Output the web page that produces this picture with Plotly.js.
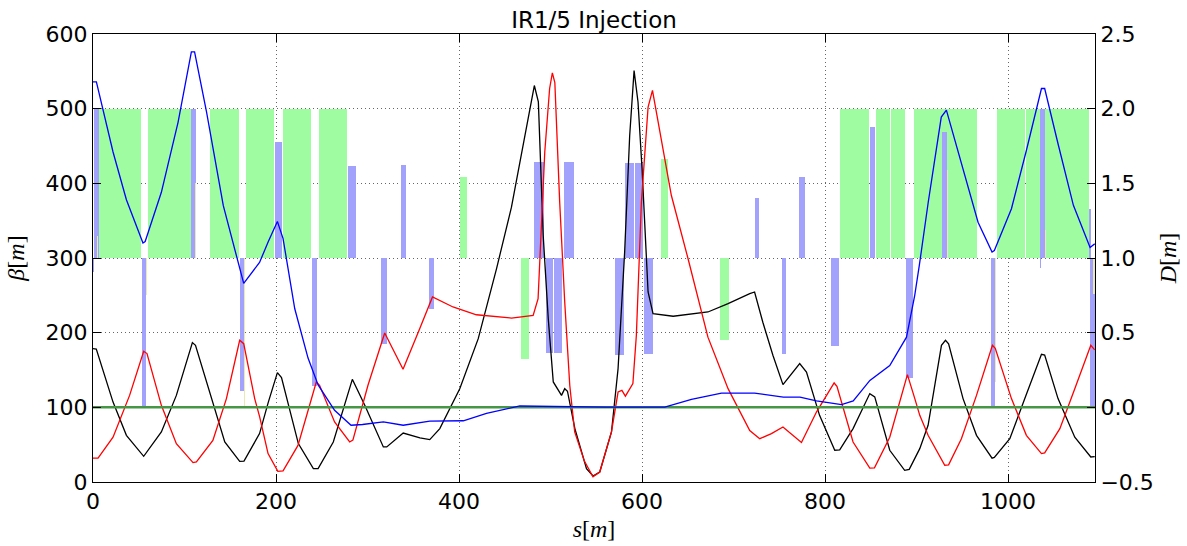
<!DOCTYPE html>
<html><head><meta charset="utf-8">
<script src="https://cdn.plot.ly/plotly-3.0.1.min.js"></script>
<style>html,body{margin:0;padding:0;background:#fff}#chart{width:1187px;height:546px}</style>
</head><body><div id="chart"></div>
<script>
// ---- optics (s in m) ----
const sBlack = [0,3.6,21.9,36.5,55.4,74.7,91.1,108.6,112,127.6,144,160.3,165,182,191.6,201.5,206,224.4,240.8,246,262.6,283.4,297,317.3,321,339,357.3,368,379,400.8,421,441,457.3,482.3,486.7,492,497.5,503,512,515.5,518.5,526.6,539.3,546.4,553.8,566.6,573.8,581,586.5,591.3,595.6,600,606.6,612,634,672,694,717.7,723,732,743,754,772.3,779.7,794,810.6,816,830.6,848.9,854.3,870.7,887,892,903.5,912.6,927.2,931.6,935,950.8,965.5,982.5,985,1001.9,1018.3,1036.5,1040,1054.6,1072.9,1090.4,1094.7];
const betaBlack = [178.6,178,107,62.5,34.4,67,116,186.7,183,120.5,53.6,27.7,28,64.8,107,146.5,140,51.4,18,18,53.6,137.5,102.7,47,47,65.6,59,56.8,71.5,125,192,285.8,368,531,509,330,218.8,134,116,125,121.6,71.5,18,8,13.4,67,151.9,308,464,551,509,419.7,254.5,225.5,222,227.7,239,252.3,254.5,214,169.7,130.4,158.6,147.3,89.3,42.5,43,71.5,118.4,114,42.5,15.7,17,44.7,76,183,189.8,185,111.7,62.5,32,33,58,111.7,171,170,111.7,60,33.5,34];

const sRed = [0,5.5,21.9,40,55.4,59,74.7,91.1,109.3,113,131,145.8,160.3,164.7,176.7,182,191.3,202,207.7,224,244,247.6,264,280.5,284,300.5,318.8,338.8,357,371,393.4,419,457.3,481,486.4,493.7,499,502,504.7,510,515.5,521,526.4,537,546.4,553.8,566.6,573.8,578,581.8,590,593.8,599.3,606.6,611.4,632,650.3,672,694,717.7,728.6,741.4,754,774.2,790.6,809.9,813,830.6,848.9,854,870.7,890,898,903.5,912.6,930.8,935,949,965.5,982.9,986,1003.7,1020,1036.5,1040,1056.6,1072.9,1090.4,1094.7];
const betaRed = [32,32,60,116,175,172,102.7,51.4,26,27,55.8,111.7,189.8,185.3,111.7,88,38,14.3,15,49,134,129.5,80.4,53.6,56,129.5,199.6,151,205.4,247.8,234.4,224,219.6,223,245.6,442,527,548,535,375,241,129.5,67,28,7,13.4,67,120.5,122.8,115,131.8,196.5,375,502,524.6,384,299,194,125,69,58,64.8,73.7,52.8,93.7,132.6,128,53.6,18.7,19,60,143.8,112,89.3,62.5,22.4,23,58,116,183,179,111.7,62.5,38,39,71.5,125,183,177];

const sBlue = [0,3.7,21.9,36.5,54.6,57,74.7,93,107.5,111,124,142.4,164.7,182,191.6,201.5,207.7,220.5,235,246,264,282,294.5,317.3,339,362.8,368,404.7,430,466.4,500,560,624.8,654,686.8,723,754.4,772.6,790.6,818,830.8,849,870.7,889,898,903,912.8,927,932.6,950.8,967.2,982.5,985,1003.7,1020,1036.5,1040,1055,1071.4,1089.6,1094.7];
const dispBlue = [2.18,2.18,1.71,1.39,1.10,1.11,1.44,1.91,2.38,2.38,1.98,1.35,0.83,0.97,1.11,1.245,1.13,0.66,0.33,0.15,-0.02,-0.12,-0.115,-0.098,-0.12,-0.098,-0.093,-0.09,-0.04,0.009,0.005,0.002,0.002,0.053,0.095,0.095,0.069,0.069,0.043,0.018,0.043,0.18,0.28,0.47,0.75,0.95,1.375,1.944,1.99,1.60,1.24,1.04,1.05,1.33,1.72,2.135,2.135,1.755,1.353,1.07,1.095];

// ---- lattice elements: start s, end s, top (beta-axis units, drawn from 300) ----
const dipStart = [6.6,60.4,91.1,128.3,143.6,167.6,208,246.7,401,468,621,685,816,855.5,871.8,897,988.4,1019.3];
const dipEnd   = [52.9,90.6,107.5,142.8,159.3,197.8,238.7,278,409,476,628,695,847.5,871.3,887,965.6,1018.6,1088.5];
const dipTop   = [500,500,500,500,500,500,500,500,408,165,433,190,500,500,500,500,500,500];

const quadStart = [0.8,0.5,54,107.5,160.5,198.6,239.3,278.7,315,337,367,481.6,494.7,503.6,514.8,570,581.8,592,602,723,752.4,771.6,807,849,888,928,981,1035.4,1035.4,1088.5,1089.5];
const quadEnd   = [6.3,1.3,58.3,113,166,206.3,245,287,321.5,341.8,372.4,492.5,502.9,513,525.4,580.4,591,601,612,727.6,757,778.6,815.3,854.3,896,933,985.8,1040,1036.5,1091,1095];
const quadTop   = [500,281,100,500,122,456,129,423,185,424,232,428,173,173,429,170,427,427,171,380,171,408,182,475,139,469,100,500,286,366,100];

const sextStart = [4,57.8,111.8,165,933,985.8,1040,1093];
const sextEnd   = [5.2,59,113,166.2,934.2,987,1041.2,1094.5];
const sextTop   = [330,251,400,100,418,134,338,252];

// D = 0 reference line
const sRef = [0,1095];
const dRef = [0,0];

const BASE = 300;
function barTrace(st, en, top, color){
  return {type:'bar', x: st.map((v,i)=>(v+en[i])/2), width: st.map((v,i)=>en[i]-v),
    y: top.map(t=>t-BASE), base: st.map(()=>BASE), marker:{color:color, line:{width:0}},
    hoverinfo:'skip', showlegend:false, xaxis:'x', yaxis:'y'};
}

const traces = [
  barTrace(dipStart, dipEnd, dipTop, 'rgb(160,252,160)'),
  barTrace(quadStart, quadEnd, quadTop, 'rgb(162,162,252)'),
  barTrace(sextStart, sextEnd, sextTop, 'rgb(234,232,180)'),
  {type:'scatter', mode:'lines', x:sBlack, y:betaBlack, line:{color:'#000', width:1.3}, showlegend:false, yaxis:'y'},
  {type:'scatter', mode:'lines', x:sRed, y:betaRed, line:{color:'#ff0000', width:1.3}, showlegend:false, yaxis:'y'},
  {type:'scatter', mode:'lines', x:sRef, y:dRef, line:{color:'rgb(70,150,70)', width:2.5}, showlegend:false, yaxis:'y2'},
  {type:'scatter', mode:'lines', x:sBlue, y:dispBlue, line:{color:'#0000ff', width:1.3}, showlegend:false, yaxis:'y2'}
];

const tickFont = {family:'DejaVu Sans, sans-serif', size:22, color:'#000'};
const mathFont = {family:'Liberation Serif, DejaVu Serif, serif', size:24, color:'#000'};
const gridCol = '#666';

const layout = {
  width:1187, height:546,
  margin:{l:93, r:92, t:34, b:64, pad:0},
  paper_bgcolor:'#fff', plot_bgcolor:'#fff',
  barmode:'overlay', bargap:0,
  title:{text:'IR1/5 Injection', font:{family:'DejaVu Sans, sans-serif', size:23, color:'#000'},
         x:0.5, xref:'paper', xanchor:'center', y:1-20/546, yref:'container', yanchor:'middle'},
  xaxis:{range:[0,1095], dtick:200, tick0:0, ticks:'inside', ticklen:8, tickwidth:1, tickcolor:'#000',
         showline:true, linecolor:'#000', linewidth:1, mirror:'ticks', zeroline:false,
         showgrid:true, gridcolor:gridCol, griddash:'1px,3px', gridwidth:1, tickfont:tickFont,
         title:{text:'<i>s</i>[<i>m</i>]', font:mathFont, standoff:6}},
  yaxis:{range:[0,600], dtick:100, tick0:0, ticks:'inside', ticklen:8, tickwidth:1, tickcolor:'#000',
         showline:true, linecolor:'#000', linewidth:1, mirror:false, zeroline:false,
         showgrid:true, gridcolor:gridCol, griddash:'1px,3px', gridwidth:1, tickfont:tickFont,
         title:{text:'<i>β</i>[<i>m</i>]', font:mathFont, standoff:14}},
  yaxis2:{range:[-0.5,2.5], dtick:0.5, tick0:-0.5, tickformat:'.1f', overlaying:'y', side:'right',
         ticks:'inside', ticklen:8, tickwidth:1, tickcolor:'#000',
         showline:true, linecolor:'#000', linewidth:1, zeroline:false, showgrid:false, tickfont:tickFont,
         title:{text:'<i>D</i>[<i>m</i>]', font:mathFont, standoff:6}}
};

Plotly.newPlot('chart', traces, layout, {staticPlot:true, displayModeBar:false});
</script></body></html>
